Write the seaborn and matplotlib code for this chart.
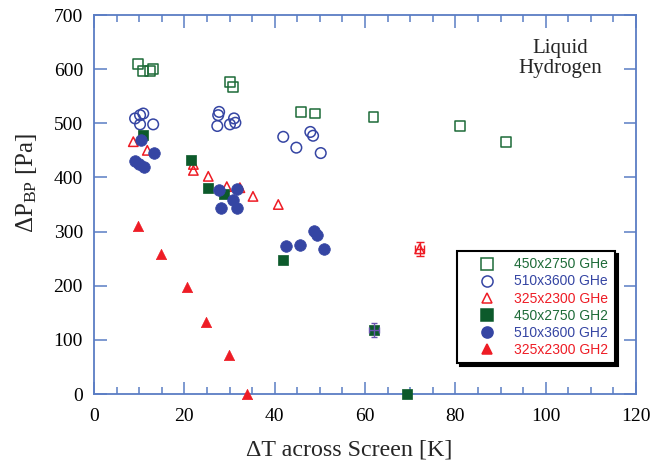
import numpy as np
import pandas as pd
import seaborn as sns
import matplotlib
matplotlib.use("Agg")
import matplotlib.pyplot as plt
from matplotlib.lines import Line2D

# ---- data ----
sq_open_x = [9.8, 10.8, 12.4, 13.0, 30.2, 30.8, 45.9, 48.9, 61.9, 81.0, 91.2]
sq_open_y = [610, 596, 596, 601, 576, 567, 521, 518, 511, 495, 465]

ci_open_x = [9.1, 10.2, 10.9, 10.2, 13.1, 27.7, 27.5, 27.3, 30.1, 31.0, 31.3, 41.9, 44.8, 47.9, 48.5, 50.2]
ci_open_y = [509, 515, 518, 498, 498, 521, 515, 495, 498, 509, 501, 475, 455, 484, 477, 445]

tr_open_x = [8.7, 11.8, 22.0, 22.0, 25.3, 29.4, 32.3, 35.2, 40.8, 72.1]
tr_open_y = [466, 450, 424, 413, 402, 383, 381, 365, 350, 268]

sq_fill_x = [10.9, 21.5, 25.3, 28.8, 41.9, 61.9, 69.2]
sq_fill_y = [478, 432, 381, 369, 247, 119, 0]

ci_fill_x = [10.5, 9.1, 10.0, 11.1, 13.3, 27.7, 28.1, 30.7, 31.6, 31.7, 42.6, 45.6, 48.7, 49.3, 51.0]
ci_fill_y = [469, 430, 424, 419, 445, 376, 344, 359, 378, 344, 274, 276, 301, 293, 268]

tr_fill_x = [9.8, 14.8, 20.6, 24.8, 29.9, 33.9]
tr_fill_y = [310, 258, 198, 133, 72, 0]

# error bars
err_red_x, err_red_y, err_red_dx, err_red_dy = [72.1], [268], [1.0], [13]
err_blue_x, err_blue_y, err_blue_dx, err_blue_dy = [61.9], [119], [1.1], [13]

labels = ["450x2750 GHe", "510x3600 GHe", "325x2300 GHe",
          "450x2750 GH2", "510x3600 GH2", "325x2300 GH2"]

x_ticks = [0, 20, 40, 60, 80, 100, 120]
y_ticks = [0, 100, 200, 300, 400, 500, 600, 700]

GREEN = "#1d6b38"
GREEN_F = "#0c5a2b"
BLUE = "#3545a3"
RED = "#ee1c25"
SPINE = "#5a7dc4"

sns.set_theme(style="white")
plt.rcParams["font.family"] = ["Liberation Serif", "DejaVu Serif"]
plt.rcParams["mathtext.fontset"] = "custom"
plt.rcParams["mathtext.rm"] = "Liberation Serif"
plt.rcParams["mathtext.it"] = "Liberation Serif:italic"

fig = plt.figure(figsize=(6.53, 4.61), dpi=100)
ax = fig.add_axes([94/653, 1-394/461, (636-94)/653, (394-15)/461])

# error bars (under markers)
ax.errorbar(err_red_x, err_red_y, xerr=err_red_dx, yerr=err_red_dy, fmt="none",
            ecolor=RED, elinewidth=1.0, capsize=3, capthick=1.0, zorder=2)
ax.errorbar(err_blue_x, err_blue_y, xerr=err_blue_dx, yerr=err_blue_dy, fmt="none",
            ecolor="#6a55b0", elinewidth=1.0, capsize=2, capthick=1.0, zorder=4)

series = [
    (sq_open_x, sq_open_y, "s", GREEN, False, 50, labels[0]),
    (ci_open_x, ci_open_y, "o", BLUE, False, 58, labels[1]),
    (tr_open_x, tr_open_y, "^", RED, False, 46, labels[2]),
    (sq_fill_x, sq_fill_y, "s", GREEN_F, True, 62, labels[3]),
    (ci_fill_x, ci_fill_y, "o", BLUE, True, 70, labels[4]),
    (tr_fill_x, tr_fill_y, "^", RED, True, 55, labels[5]),
]

for xs, ys, mk, col, filled, s, lab in series:
    df = pd.DataFrame({"x": xs, "y": ys})
    if filled:
        sns.scatterplot(data=df, x="x", y="y", ax=ax, marker=mk, s=s,
                        color=col, edgecolor=col, linewidth=0.5, clip_on=False,
                        zorder=3, legend=False)
    else:
        sns.scatterplot(data=df, x="x", y="y", ax=ax, marker=mk, s=s,
                        facecolors="none", edgecolor=col, linewidth=1.1,
                        clip_on=False, zorder=3, legend=False)

ax.set_xlim(0, 120)
ax.set_ylim(0, 700)
ax.set_xticks(x_ticks)
ax.set_yticks(y_ticks)
ax.set_xticks(np.arange(0, 121, 5), minor=True)
ax.tick_params(axis="both", which="major", direction="in", length=9, width=1.1,
               color=SPINE, top=True, right=True, bottom=True, left=True,
               labelsize=14, labelcolor="black")
ax.tick_params(axis="x", which="major", pad=10)
ax.tick_params(axis="y", which="major", pad=8)
ax.tick_params(axis="x", which="minor", direction="in", length=5, width=1.1,
               color=SPINE, top=True, bottom=True)
for sp in ax.spines.values():
    sp.set_visible(True)
    sp.set_color(SPINE)
    sp.set_linewidth(1.3)

ax.set_xlabel("ΔT across Screen [K]", fontsize=17.3)
ax.set_ylabel("ΔP$_{\\mathrm{BP}}$ [Pa]", fontsize=18)
ax.xaxis.set_label_coords((349.5-94)/542, -(439-394)/379)
ax.yaxis.set_label_coords((39-94)/542, (394-183)/379)

ax.text(103.2, 620, "Liquid\nHydrogen", ha="center", va="center",
        fontsize=15, linespacing=1.1)

# legend
handles = []
for xs, ys, mk, col, filled, s, lab in series:
    handles.append(Line2D([], [], linestyle="none", marker=mk, markersize=8 if mk != "^" else 7.5,
                          markerfacecolor=col if filled else "none",
                          markeredgecolor=col, markeredgewidth=1.1))
leg = ax.legend(handles, labels, loc="lower right", bbox_to_anchor=(0.961, 0.082),
                borderaxespad=0, frameon=True, fancybox=False, shadow={"color": "black", "alpha": 1.0},
                prop={"family": "Liberation Sans", "size": 10},
                labelspacing=0.22, handletextpad=0.3, borderpad=0.45, handlelength=3.4)
leg.get_frame().set_edgecolor("black")
leg.get_frame().set_linewidth(1.5)
for t, (xs, ys, mk, col, filled, s, lab) in zip(leg.get_texts(), series):
    t.set_color(col if col != GREEN_F else GREEN)

fig.savefig("out.png", dpi=100)
